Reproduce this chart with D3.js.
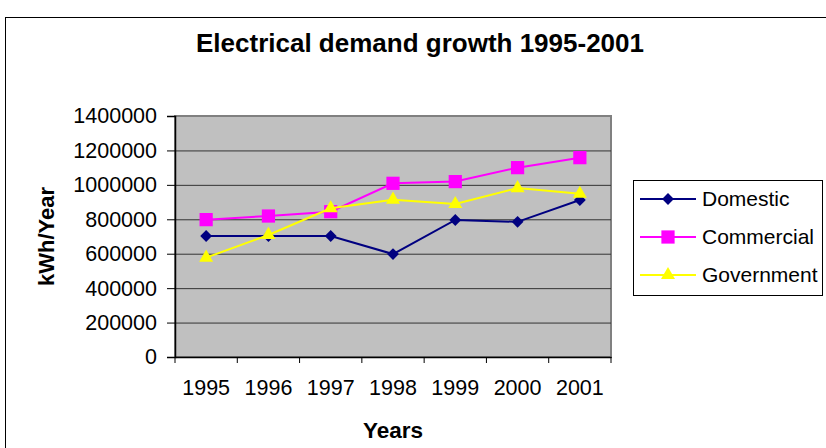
<!DOCTYPE html>
<html>
<head>
<meta charset="utf-8">
<script src="https://cdn.jsdelivr.net/npm/d3@7"></script>
<style>
body { margin: 0; background: #fff; }
svg { display: block; font-family: "Liberation Sans", Arial, sans-serif; }
.grid line { stroke: #333; stroke-width: 1; }
.grid path { display: none; }
.axis text { font-size: 21.5px; fill: #000; }
</style>
</head>
<body>
<div id="chart"></div>
<script>
// data
var years = ["1995", "1996", "1997", "1998", "1999", "2000", "2001"];
var domestic = [703000, 703000, 703000, 598000, 796000, 785000, 912000];
var commercial = [798000, 819000, 844000, 1009000, 1019000, 1100000, 1158000];
var government = [577000, 709000, 864000, 914000, 889000, 981000, 948000];
var yTicks = [0, 200000, 400000, 600000, 800000, 1000000, 1200000, 1400000];

// diamond = square turned 45 degrees
var series = [
  {name: "Domestic", values: domestic, color: "#000080", shape: d3.symbolSquare, size: 70, rot: 45},
  {name: "Commercial", values: commercial, color: "#ff00ff", shape: d3.symbolSquare, size: 175, rot: 0},
  {name: "Government", values: government, color: "#ffff00", shape: d3.symbolTriangle, size: 85, rot: 0}
];

var W = 826, H = 448;
var plot = {left: 175, right: 611, top: 116, bottom: 357};

var svg = d3.select("#chart").append("svg")
  .attr("width", W)
  .attr("height", H);

// outer frame
svg.append("rect")
  .attr("x", 5.5).attr("y", 17.5)
  .attr("width", W + 10).attr("height", H + 10)
  .attr("fill", "#fff").attr("stroke", "#000").attr("stroke-width", 1);

var x = d3.scaleBand().domain(years).range([plot.left, plot.right]);
var y = d3.scaleLinear().domain([0, 1400000]).range([plot.bottom, plot.top]);

// plot area
svg.append("rect")
  .attr("x", plot.left).attr("y", plot.top)
  .attr("width", plot.right - plot.left).attr("height", plot.bottom - plot.top)
  .attr("fill", "#c0c0c0")
  .attr("stroke", "#808080").attr("stroke-width", 2);

// gridlines
svg.append("g")
  .attr("class", "grid")
  .attr("transform", "translate(" + plot.left + ",0)")
  .call(d3.axisLeft(y).tickValues(yTicks.slice(1, -1)).tickSize(-(plot.right - plot.left)).tickFormat(""));

// y axis
var ya = svg.append("g")
  .attr("class", "axis")
  .attr("transform", "translate(" + plot.left + ",0)")
  .call(d3.axisLeft(y).tickValues(yTicks).tickSize(8).tickPadding(10).tickFormat(d3.format("d")));
ya.select(".domain").attr("stroke", "#000").attr("stroke-width", 1.5);
ya.selectAll(".tick line").attr("stroke", "#000");

// x axis
var xa = svg.append("g")
  .attr("class", "axis")
  .attr("transform", "translate(0," + plot.bottom + ")")
  .call(d3.axisBottom(x).tickSize(0).tickPadding(23));
xa.select(".domain").attr("stroke", "#000").attr("stroke-width", 1.5);
xa.selectAll(".xt")
  .data(years.concat(["end"]))
  .enter().append("line")
  .attr("x1", function(d, i) { return plot.left + i * x.step(); })
  .attr("x2", function(d, i) { return plot.left + i * x.step(); })
  .attr("y1", 0).attr("y2", 6)
  .attr("stroke", "#000");

// titles
svg.append("text")
  .attr("x", 420).attr("y", 52)
  .attr("text-anchor", "middle")
  .attr("font-size", "26px").attr("font-weight", "bold")
  .text("Electrical demand growth 1995-2001");

svg.append("text")
  .attr("x", (plot.left + plot.right) / 2).attr("y", 438)
  .attr("text-anchor", "middle")
  .attr("font-size", "22.5px").attr("font-weight", "bold")
  .text("Years");

svg.append("text")
  .attr("transform", "translate(54," + ((plot.top + plot.bottom) / 2) + ") rotate(-90)")
  .attr("text-anchor", "middle")
  .attr("font-size", "22px").attr("font-weight", "bold")
  .text("kWh/Year");

function marker(s) {
  return d3.symbol().type(s.shape).size(s.size)();
}

// lines and markers
series.forEach(function(s) {
  var line = d3.line()
    .x(function(d, i) { return x(years[i]) + x.bandwidth() / 2; })
    .y(function(d) { return y(d); });

  var g = svg.append("g").attr("class", "series");
  g.append("path")
    .datum(s.values)
    .attr("d", line)
    .attr("fill", "none")
    .attr("stroke", s.color)
    .attr("stroke-width", 2);

  g.selectAll("path.mark")
    .data(s.values)
    .enter().append("path")
    .attr("class", "mark")
    .attr("transform", function(d, i) {
      return "translate(" + (x(years[i]) + x.bandwidth() / 2) + "," + y(d) + ") rotate(" + s.rot + ")";
    })
    .attr("d", marker(s))
    .attr("fill", s.color);
});

// legend
var legend = svg.append("g").attr("transform", "translate(633,180)");
legend.append("rect")
  .attr("x", 0.5).attr("y", 0.5)
  .attr("width", 189).attr("height", 115)
  .attr("fill", "#fff").attr("stroke", "#000");

var items = legend.selectAll(".item")
  .data(series)
  .enter().append("g")
  .attr("transform", function(d, i) { return "translate(0," + (19 + i * 38) + ")"; });
items.append("line")
  .attr("x1", 7).attr("x2", 63)
  .attr("stroke", function(d) { return d.color; })
  .attr("stroke-width", 2);
items.append("path")
  .attr("transform", function(d) { return "translate(35,0) rotate(" + d.rot + ")"; })
  .attr("d", marker)
  .attr("fill", function(d) { return d.color; });
items.append("text")
  .attr("x", 69).attr("y", 0)
  .attr("dy", "0.35em")
  .attr("font-size", "21px")
  .text(function(d) { return d.name; });
</script>
</body>
</html>
